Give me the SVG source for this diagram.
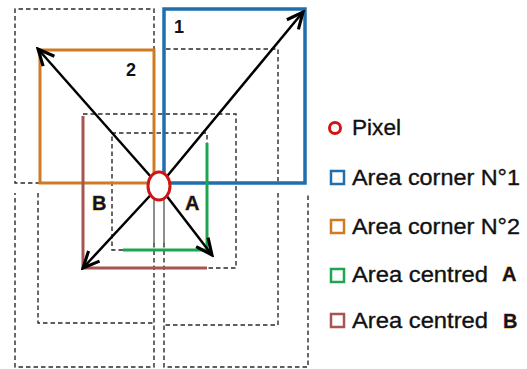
<svg xmlns="http://www.w3.org/2000/svg" width="527" height="369" viewBox="0 0 527 369">
<style>
.dash{fill:none;stroke:#2a2a2a;stroke-width:1.4;stroke-dasharray:4.5 3}
.grey{fill:none;stroke:#444;stroke-width:1.2}
.blue{fill:none;stroke:#1f6fae;stroke-width:3.5}
.orange{fill:none;stroke:#d07a22;stroke-width:3}
.green{fill:none;stroke:#1ea552;stroke-width:3}
.brown{fill:none;stroke:#a85452;stroke-width:3}
.arrow{fill:none;stroke:#000;stroke-width:2.5;marker-end:url(#ah)}
.num{font-family:"Liberation Sans",Arial,sans-serif;font-weight:bold;font-size:18px;fill:#111}
.ab{font-family:"Liberation Sans",Arial,sans-serif;font-weight:bold;font-size:20px;fill:#0d1430;stroke:#e8a21a;stroke-width:0.8;paint-order:stroke}
.leg{font-family:"Liberation Sans",Arial,sans-serif;font-size:22px;fill:#111;stroke:#111;stroke-width:0.35}
</style>
<defs>
<marker id="ah" markerUnits="userSpaceOnUse" markerWidth="20" markerHeight="20" viewBox="-14 -8 16 16" refX="0" refY="0" orient="auto">
<path d="M-13,-6 L0,0 L-13,6" fill="none" stroke="#000" stroke-width="2.5" stroke-linejoin="miter"/>
</marker>
</defs>
<rect width="527" height="369" fill="#fff"/>
<g id="dashed-areas">
<path class="dash" d="M40,183 H15 V9 H154 V50"/>
<path class="dash" d="M166,49 H278 V183"/>
<path class="dash" d="M83,114 H236 V268 H207"/>
<path class="dash" d="M123,250 H112 V133 H207 V143"/>
<path class="dash" d="M154,243 V367 H15 V193"/>
<path class="dash" d="M38,193 V323 H154"/>
<path class="dash" d="M164,243 V367 H308 V193"/>
<path class="dash" d="M278,193 V325 H164"/>
<path class="grey" d="M154,199 V243 M164,199 V243"/>
</g>
<g id="area-corner-1"><rect class="blue" x="164" y="9" width="141" height="174"/><text class="num" x="174" y="33">1</text></g>
<g id="area-corner-2"><rect class="orange" x="40" y="50" width="114" height="133"/><text class="num" x="126" y="76">2</text></g>
<g id="area-centred-b"><path class="brown" d="M83,116 V268 H207"/><text class="ab" x="92" y="210">B</text></g>
<g id="area-centred-a"><path class="green" d="M207,143 V250 H123"/><text class="ab" x="185" y="210">A</text></g>
<g id="connectors">
<line class="arrow" x1="159" y1="186" x2="38" y2="49"/>
<line class="arrow" x1="159" y1="186" x2="303" y2="12"/>
<line class="arrow" x1="159" y1="186" x2="83" y2="268"/>
<line class="arrow" x1="159" y1="186" x2="212" y2="255"/>
</g>
<g id="pixel"><ellipse cx="159" cy="186" rx="11" ry="14" fill="#fff" stroke="#d01515" stroke-width="3"/></g>
<g id="legend">
<circle cx="335" cy="128" r="5.5" fill="none" stroke="#d01515" stroke-width="3"/>
<text class="leg" x="352" y="135" textLength="49" lengthAdjust="spacingAndGlyphs">Pixel</text>
<rect x="331" y="171" width="13" height="13" fill="none" stroke="#1f6fae" stroke-width="2.5"/>
<text class="leg" x="352" y="185" textLength="168" lengthAdjust="spacingAndGlyphs">Area corner N°1</text>
<rect x="331" y="220" width="13" height="13" fill="none" stroke="#d07a22" stroke-width="2.5"/>
<text class="leg" x="352" y="234" textLength="168" lengthAdjust="spacingAndGlyphs">Area corner N°2</text>
<rect x="331" y="269" width="13" height="13" fill="none" stroke="#1ea552" stroke-width="2.5"/>
<text class="leg" x="352" y="282" textLength="136" lengthAdjust="spacingAndGlyphs">Area centred</text>
<text class="ab" x="502" y="281">A</text>
<rect x="331" y="314" width="13" height="13" fill="none" stroke="#a85452" stroke-width="2.5"/>
<text class="leg" x="352" y="328" textLength="136" lengthAdjust="spacingAndGlyphs">Area centred</text>
<text class="ab" x="503" y="328">B</text>
</g>
</svg>
